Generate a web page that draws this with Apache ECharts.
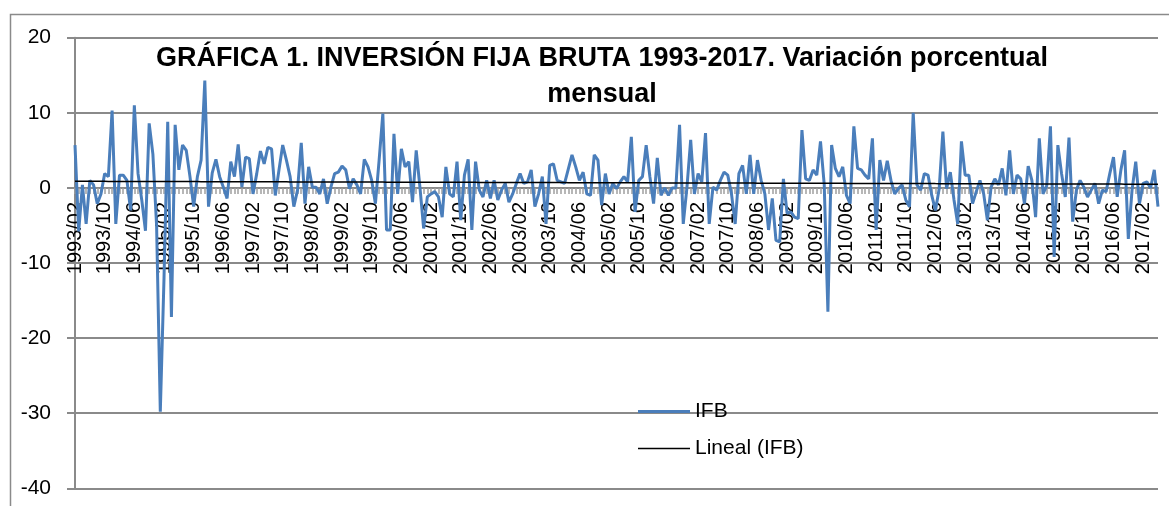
<!DOCTYPE html>
<html>
<head>
<meta charset="utf-8">
<script src="https://cdn.jsdelivr.net/npm/echarts@6/dist/echarts.min.js"></script>
<style>
html,body{margin:0;padding:0;background:#fff;}
#chart{width:1169px;height:506px;}
</style>
</head>
<body>
<div id="chart"></div>
<script>
// Monthly % change of IFB, 1993/02 .. 2017/06
const ifb = [
 5.7,-5.8,0.4,-4.8,1.0,0.4,-2.1,-0.8,1.9,1.5,
 10.3,-4.8,1.7,1.7,1.0,-3.0,11.0,1.9,-1.6,-5.7,
 8.6,4.5,-5.0,-29.8,-12.0,8.8,-17.2,8.4,2.4,5.7,
 5.0,1.5,-2.5,1.5,3.7,14.3,-2.5,2.0,3.8,1.5,
 0.1,-1.4,3.5,1.5,5.8,0.1,4.1,3.9,-0.8,1.9,
 4.9,3.2,5.4,5.2,-1.0,2.4,5.7,3.7,1.5,-2.5,
 -0.3,6.0,-2.1,2.8,0.1,0.1,-0.8,1.2,-2.1,0.1,
 1.9,2.1,2.9,2.4,-0.1,1.2,0.4,-0.8,3.8,2.8,
 1.0,-2.1,3.7,9.9,-5.6,-5.6,7.2,-0.8,5.2,2.8,
 3.5,-1.9,5.0,0.1,-5.4,-1.2,-0.8,-0.5,-1.2,-3.9,
 2.8,-0.8,-1.2,3.5,-4.3,1.7,3.8,-5.6,3.5,-0.3,
 -1.2,1.0,-1.4,1.0,-1.6,-0.3,0.6,-1.9,-0.8,0.6,
 1.9,0.6,0.8,2.4,-2.5,-0.8,1.5,-4.8,3.0,3.2,
 1.0,0.8,0.6,2.5,4.4,2.8,1.0,2.1,-0.8,-1.0,
 4.4,3.7,-2.3,1.9,-0.8,0.6,-0.1,0.8,1.5,0.8,
 6.8,-3.2,1.0,1.5,5.7,1.5,-2.1,4.0,-1.0,0.0,
 -1.0,0.0,0.0,8.4,-4.8,0.1,6.4,-0.8,1.9,0.8,
 7.3,-4.8,0.1,-0.3,1.0,2.1,1.7,-0.8,-4.8,1.9,
 3.0,-0.8,4.4,-0.8,3.7,1.0,-0.8,-5.6,-1.4,-7.0,
 -7.2,1.2,-3.4,-3.2,-3.9,-4.1,7.7,1.2,1.0,2.4,
 1.7,6.2,0.5,-16.5,5.7,2.6,1.5,2.8,-1.0,-2.1,
 8.2,2.6,2.4,1.7,1.2,6.6,-5.6,3.7,1.0,3.6,
 1.0,-0.8,-0.1,0.4,-1.6,-2.5,10.0,0.4,-0.3,1.9,
 1.7,-1.0,-3.0,-0.1,7.5,-0.1,2.1,-1.6,-4.8,6.2,
 1.7,1.7,-2.1,-0.5,1.0,-0.8,-4.3,0.1,1.2,0.4,
 2.6,-1.0,5.0,-0.8,1.7,1.2,-2.1,2.9,1.0,-3.9,
 6.6,-0.8,0.3,8.2,-9.2,5.7,1.9,-1.2,6.7,-4.5,
 -0.3,1.0,0.1,-1.2,-0.3,0.6,-2.1,-0.3,-0.5,1.9,
 4.1,-1.2,2.4,5.0,-6.8,-0.3,3.5,-2.1,0.6,0.8,
 0.0,2.4,-2.5
];
const firstYear = 1993, firstMonth = 2;
const months = ifb.map((v, i) => {
  const m = firstMonth - 1 + i;
  const y = firstYear + Math.floor(m / 12);
  const mm = (m % 12) + 1;
  return y + '/' + (mm < 10 ? '0' + mm : mm);
});
const yTicks = [-40, -30, -20, -10, 0, 10, 20];

// Linear trend (least squares), as Excel's "Lineal" trendline
const n = ifb.length;
let sx = 0, sy = 0, sxx = 0, sxy = 0;
ifb.forEach((v, i) => { const x = i + 1; sx += x; sy += v; sxx += x * x; sxy += x * v; });
const slope = (n * sxy - sx * sy) / (n * sxx - sx * sx);
const intercept = (sy - slope * sx) / n;
const trend = ifb.map((v, i) => +(intercept + slope * (i + 1)).toFixed(3));

const W = 1169, H = 506;
const gridTop = 37.7, gridBottom = 17.7;
const yMin = yTicks[0], yMax = yTicks[yTicks.length - 1];
const plotH = H - gridTop - gridBottom;
const zeroFromBottom = plotH * (0 - yMin) / (yMax - yMin);

const chart = echarts.init(document.getElementById('chart'));
const gray = '#8a8a8a';
chart.setOption({
  animation: false,
  backgroundColor: '#fff',
  graphic: [{
    type: 'rect', left: 8, top: 12, silent: true, z: -10,
    shape: { width: 1300, height: 700 },
    style: { fill: 'none', stroke: '#8a8a8a', lineWidth: 1.5 }
  }],
  title: {
    text: 'GRÁFICA 1. INVERSIÓN FIJA BRUTA 1993-2017. Variación porcentual\nmensual',
    left: 597, top: 36, textAlign: 'center',
    textStyle: { fontFamily: 'Liberation Sans', fontWeight: 'bold', fontSize: 27, lineHeight: 36, color: '#000' }
  },
  legend: {
    orient: 'vertical', left: 633, top: 396, itemWidth: 52, itemHeight: 14, itemGap: 16,
    textStyle: { fontFamily: 'Liberation Sans', fontSize: 21, color: '#000' },
    data: [
      { name: 'IFB', icon: 'path://M0,0H52V3H0Z' },
      { name: 'Lineal (IFB)', icon: 'path://M0,0H52V1.5H0Z' }
    ]
  },
  grid: { left: 75, right: 11, top: gridTop, bottom: gridBottom, containLabel: false, outerBoundsMode: 'none' },
  xAxis: {
    type: 'category', data: months, boundaryGap: false,
    position: 'bottom', offset: -zeroFromBottom,
    axisLine: { onZero: false, lineStyle: { color: gray, width: 2 } },
    axisTick: { show: true, interval: 0, length: 6, lineStyle: { color: '#a0a0a0', width: 1.5 } },
    axisLabel: { interval: 7, rotate: 90, margin: 14, fontFamily: 'Liberation Sans', fontSize: 20, color: '#000' },
    splitLine: { show: false }
  },
  yAxis: {
    type: 'value', min: yMin, max: yMax, interval: 10,
    axisLine: { show: true, lineStyle: { color: gray, width: 2 } },
    axisTick: { show: true, length: 8, lineStyle: { color: gray, width: 2 } },
    axisLabel: { margin: 24, fontFamily: 'Liberation Sans', fontSize: 21, color: '#000' },
    splitLine: { show: true, lineStyle: { color: gray, width: 2 } }
  },
  series: [
    { name: 'IFB', type: 'line', data: ifb, symbol: 'none', z: 3,
      lineStyle: { color: '#4a7ebb', width: 3 }, itemStyle: { color: '#4a7ebb' } },
    { name: 'Lineal (IFB)', type: 'line', data: trend, symbol: 'none', z: 4,
      lineStyle: { color: '#000', width: 1.5 }, itemStyle: { color: '#000' } }
  ]
});
</script>
</body>
</html>
